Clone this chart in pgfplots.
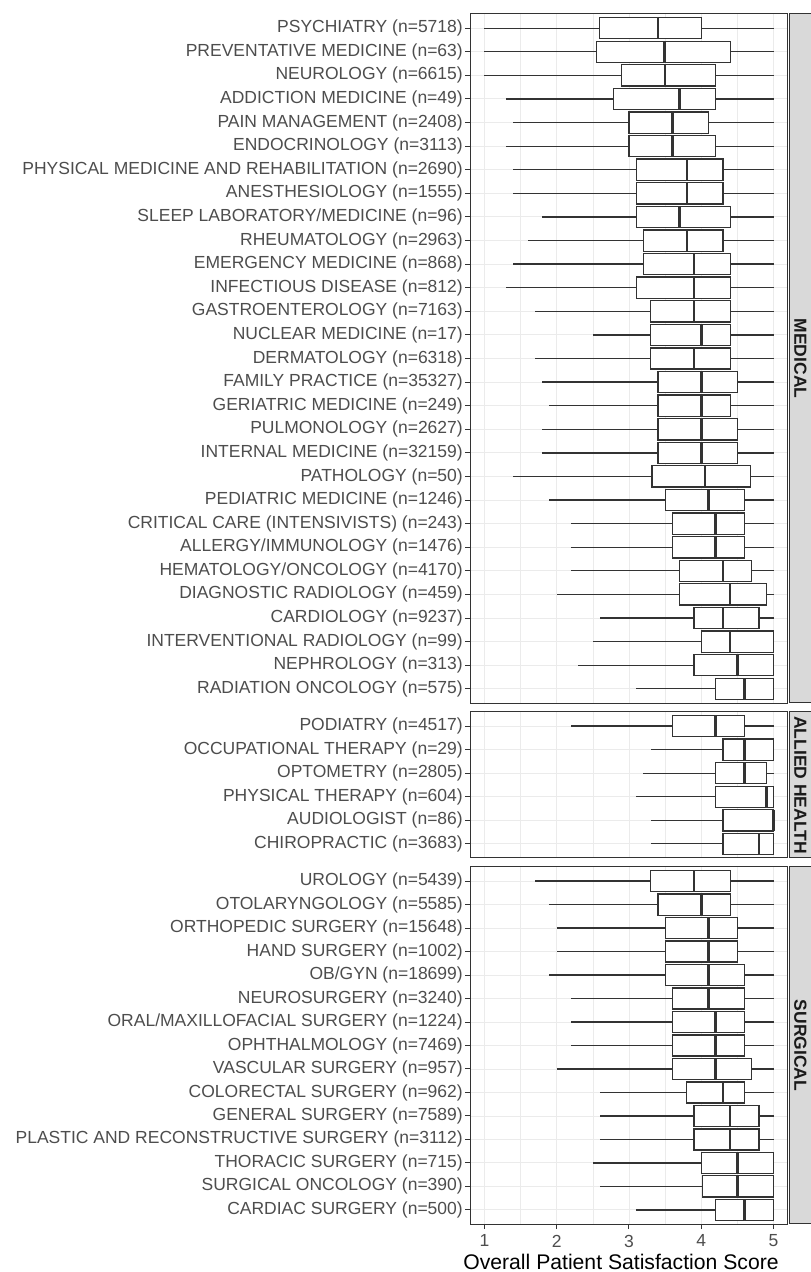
\documentclass[border=0pt]{standalone}
\usepackage{fontspec}
\setmainfont{Liberation Sans}
\usepackage{pgfplots}
\usepackage{pgfplotstable}
\pgfplotsset{compat=1.18}
\usepgfplotslibrary{statistics}
\definecolor{grey10}{HTML}{1A1A1A}
\definecolor{grey20}{HTML}{333333}
\definecolor{grey30}{HTML}{4D4D4D}
\definecolor{grey85}{HTML}{D9D9D9}
\definecolor{grey92}{HTML}{EBEBEB}

\pgfplotstableread[col sep=comma]{
label,lw,lq,med,uq,uw
PSYCHIATRY (n=5718),1.0,2.59,3.40,4.00,5
PREVENTATIVE MEDICINE (n=63),1.0,2.55,3.49,4.40,5
NEUROLOGY (n=6615),1.0,2.90,3.50,4.20,5
ADDICTION MEDICINE (n=49),1.30,2.79,3.70,4.20,5
PAIN MANAGEMENT (n=2408),1.40,3.0,3.60,4.10,5
ENDOCRINOLOGY (n=3113),1.30,3.0,3.60,4.20,5
PHYSICAL MEDICINE AND REHABILITATION (n=2690),1.4,3.1,3.8,4.3,5
ANESTHESIOLOGY (n=1555),1.4,3.1,3.8,4.3,5
SLEEP LABORATORY/MEDICINE (n=96),1.8,3.1,3.7,4.4,5
RHEUMATOLOGY (n=2963),1.6,3.2,3.8,4.3,5
EMERGENCY MEDICINE (n=868),1.4,3.2,3.9,4.4,5
INFECTIOUS DISEASE (n=812),1.3,3.1,3.9,4.4,5
GASTROENTEROLOGY (n=7163),1.7,3.3,3.9,4.4,5
NUCLEAR MEDICINE (n=17),2.5,3.3,4.0,4.4,5
DERMATOLOGY (n=6318),1.7,3.3,3.9,4.4,5
FAMILY PRACTICE (n=35327),1.8,3.4,4.0,4.5,5
GERIATRIC MEDICINE (n=249),1.9,3.4,4.0,4.4,5
PULMONOLOGY (n=2627),1.8,3.4,4.0,4.5,5
INTERNAL MEDICINE (n=32159),1.8,3.4,4.0,4.5,5
PATHOLOGY (n=50),1.4,3.32,4.05,4.68,5
PEDIATRIC MEDICINE (n=1246),1.9,3.5,4.1,4.6,5
CRITICAL CARE (INTENSIVISTS) (n=243),2.2,3.6,4.2,4.6,5
ALLERGY/IMMUNOLOGY (n=1476),2.2,3.6,4.2,4.6,5
HEMATOLOGY/ONCOLOGY (n=4170),2.2,3.7,4.3,4.7,5
DIAGNOSTIC RADIOLOGY (n=459),2.0,3.7,4.4,4.9,5
CARDIOLOGY (n=9237),2.6,3.9,4.3,4.8,5
INTERVENTIONAL RADIOLOGY (n=99),2.5,4.0,4.4,5.0,5
NEPHROLOGY (n=313),2.3,3.9,4.5,5.0,5
RADIATION ONCOLOGY (n=575),3.1,4.2,4.6,5.0,5
}\medtab

\pgfplotstableread[col sep=comma]{
label,lw,lq,med,uq,uw
PODIATRY (n=4517),2.2,3.6,4.2,4.6,5
OCCUPATIONAL THERAPY (n=29),3.3,4.3,4.6,5.0,5
OPTOMETRY (n=2805),3.2,4.2,4.6,4.9,5
PHYSICAL THERAPY (n=604),3.1,4.2,4.9,5.0,5
AUDIOLOGIST (n=86),3.3,4.3,5.0,5.0,5
CHIROPRACTIC (n=3683),3.3,4.3,4.8,5.0,5
}\alliedtab

\pgfplotstableread[col sep=comma]{
label,lw,lq,med,uq,uw
UROLOGY (n=5439),1.7,3.3,3.9,4.4,5
OTOLARYNGOLOGY (n=5585),1.9,3.4,4.0,4.4,5
ORTHOPEDIC SURGERY (n=15648),2.0,3.5,4.1,4.5,5
HAND SURGERY (n=1002),2.0,3.5,4.1,4.5,5
OB/GYN (n=18699),1.9,3.5,4.1,4.6,5
NEUROSURGERY (n=3240),2.2,3.6,4.1,4.6,5
ORAL/MAXILLOFACIAL SURGERY (n=1224),2.2,3.6,4.2,4.6,5
OPHTHALMOLOGY (n=7469),2.2,3.6,4.2,4.6,5
VASCULAR SURGERY (n=957),2.0,3.6,4.2,4.7,5
COLORECTAL SURGERY (n=962),2.6,3.8,4.3,4.6,5
GENERAL SURGERY (n=7589),2.6,3.9,4.4,4.8,5
PLASTIC AND RECONSTRUCTIVE SURGERY (n=3112),2.6,3.9,4.4,4.8,5
THORACIC SURGERY (n=715),2.5,4.0,4.5,5.0,5
SURGICAL ONCOLOGY (n=390),2.6,4.02,4.5,5.0,5
CARDIAC SURGERY (n=500),3.1,4.2,4.6,5.0,5
}\surgtab

\pgfplotsset{
  panel/.style={
    scale only axis, width=190.8pt, anchor=south west,
    xmin=0.8, xmax=5.2,
    y dir=reverse,
    xtick={1,2,3,4,5},
    minor xtick={1.5,2.5,3.5,4.5},
    xtick pos=lower, ytick pos=left,
    grid=both,
    major grid style={grey92, line width=0.55pt},
    minor grid style={grey92, line width=0.3pt},
    axis line style={grey20, line width=0.6pt},
    tick align=outside, major tick length=3pt, minor tick length=0pt,
    tick style={grey20, line width=0.6pt},
    ticklabel style={font=\fontsize{10.5}{12}\selectfont, text=grey30},
    yticklabel style={xshift=2.2pt},
    /pgf/number format/assume math mode=true,
    boxplot/draw direction=x,
    boxplot/box extend=0.9,
    boxplot/whisker extend=0,
    boxplot/every median/.style={line width=1.5pt},
  },
}
\newcommand{\boxes}[2]{%
  \pgfplotsinvokeforeach{0,...,#2}{%
    \pgfplotstablegetelem{##1}{lw}\of#1\let\LW\pgfplotsretval
    \pgfplotstablegetelem{##1}{lq}\of#1\let\LQ\pgfplotsretval
    \pgfplotstablegetelem{##1}{med}\of#1\let\MED\pgfplotsretval
    \pgfplotstablegetelem{##1}{uq}\of#1\let\UQ\pgfplotsretval
    \pgfplotstablegetelem{##1}{uw}\of#1\let\UW\pgfplotsretval
    \edef\doplot{\noexpand\addplot[grey20, fill=white, line width=0.75pt, mark=none,
      boxplot prepared={lower whisker=\LW, lower quartile=\LQ, median=\MED,
        upper quartile=\UQ, upper whisker=\UW}] coordinates {};}%
    \doplot
  }%
}

\begin{document}
\begin{tikzpicture}
\useasboundingbox (0pt,0pt) rectangle (486.6pt,763.2pt);

% MEDICAL
\begin{axis}[panel, at={(282pt,341.4pt)}, height=413.4pt,
  ymin=0.4, ymax=29.6, ytick={1,...,29},
  yticklabels from table={\medtab}{label},
  xticklabels={}, every x tick/.style={draw=none}]
\boxes{\medtab}{28}
\end{axis}

% ALLIED HEALTH
\begin{axis}[panel, at={(282pt,248.4pt)}, height=87.6pt,
  ymin=0.4, ymax=6.6, ytick={1,...,6},
  yticklabels from table={\alliedtab}{label},
  xticklabels={}, every x tick/.style={draw=none}]
\boxes{\alliedtab}{5}
\end{axis}

% SURGICAL
\begin{axis}[panel, at={(282pt,28.8pt)}, height=214.2pt,
  ymin=0.4, ymax=15.6, ytick={1,...,15},
  yticklabels from table={\surgtab}{label}]
\boxes{\surgtab}{14}
\end{axis}

% strips
\begin{scope}[font=\fontsize{10.5}{12}\selectfont\bfseries]
\draw[grey20, fill=grey85, line width=0.6pt] (473.4pt,341.4pt) rectangle (495pt,754.8pt);
\node[rotate=-90, text=grey10] at (480.3pt,548.1pt) {MEDICAL};
\draw[grey20, fill=grey85, line width=0.6pt] (473.4pt,248.4pt) rectangle (495pt,336pt);
\node[rotate=-90, text=grey10] at (480.3pt,292.2pt) {ALLIED HEALTH};
\draw[grey20, fill=grey85, line width=0.6pt] (473.4pt,28.8pt) rectangle (495pt,243pt);
\node[rotate=-90, text=grey10] at (480.3pt,135.9pt) {SURGICAL};
\end{scope}

\node[anchor=base, font=\fontsize{12.7}{14}\selectfont, text=black] at (372.6pt,1.2pt) {Overall Patient Satisfaction Score};
\end{tikzpicture}
\end{document}
